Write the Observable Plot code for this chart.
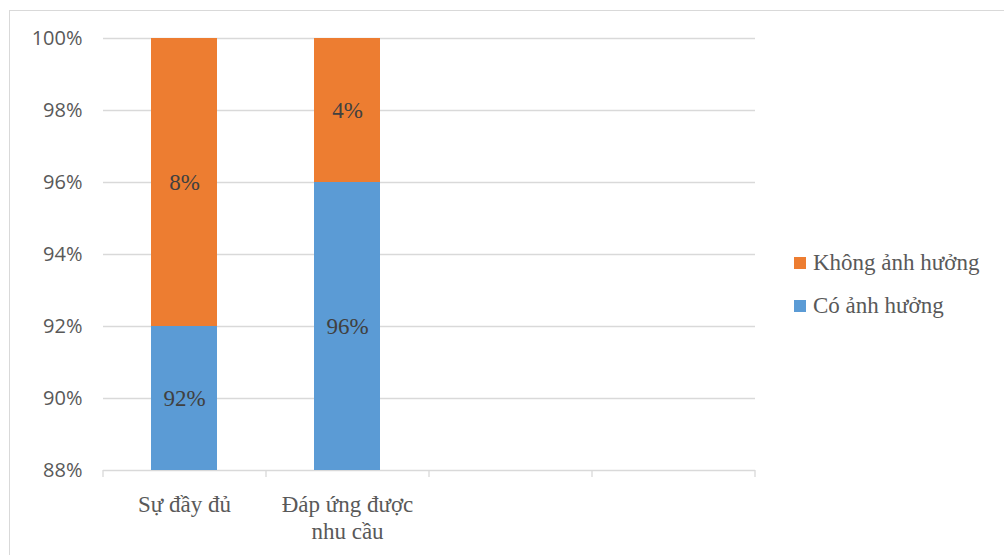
<!DOCTYPE html>
<html>
<head>
<meta charset="utf-8">
<script src="https://cdn.jsdelivr.net/npm/d3@7"></script>
<script src="https://cdn.jsdelivr.net/npm/@observablehq/plot@0.6"></script>
<style>
  html, body { margin: 0; padding: 0; background: #fff; }
  #wrap { position: relative; width: 1004px; height: 555px; overflow: hidden; background: #fff; }
  #border { position: absolute; left: 9px; top: 10px; width: 1100px; height: 700px; border: 1.5px solid #d9d9d9; box-sizing: border-box; pointer-events: none; }
  #chart { position: absolute; left: 0; top: 0; }
  .legend { position: absolute; left: 794px; font-family: "Liberation Serif", "Tinos", "Times New Roman", "DejaVu Serif", serif; font-size: 23px; color: #595959; }
  .item { position: absolute; left: 0; display: flex; align-items: center; height: 23px; line-height: 23px; white-space: nowrap; }
  .sw { width: 12px; height: 12px; margin-right: 7px; flex: none; }
  .serif { font-family: "Liberation Serif", "Tinos", "Times New Roman", "DejaVu Serif", serif; }
</style>
</head>
<body>
<div id="wrap">
  <div id="chart"></div>
  <div id="border"></div>
  <div class="legend" id="legend"></div>
</div>
<script>
// ---- data ----
const categories = ["Sự đầy đủ", "Đáp ứng được\nnhu cầu", "empty3", "empty4"];
const tickLabels = ["Sự đầy đủ", "Đáp ứng được\nnhu cầu", "", ""];
const seriesNames = ["Có ảnh hưởng", "Không ảnh hưởng"];
const seriesColors = ["#5B9BD5", "#ED7D31"];
const coAnhHuong = [0.92, 0.96];
const khongAnhHuong = [0.08, 0.04];
const yTicks = [0.88, 0.90, 0.92, 0.94, 0.96, 0.98, 1.00];
const yMin = 0.88, yMax = 1.0;

const SERIF = "'Liberation Serif', Tinos, 'Times New Roman', 'DejaVu Serif', serif";

// stacked segments + label positions (midpoint of visible part)
const segs = [];
categories.slice(0, 2).forEach((c, ci) => {
  let cum = 0;
  [coAnhHuong, khongAnhHuong].forEach((vals, si) => {
    const lo = cum, hi = cum + vals[ci];
    cum = hi;
    const vlo = Math.max(lo, yMin), vhi = Math.min(hi, yMax);
    segs.push({cat: c, series: seriesNames[si], y1: lo, y2: hi, ymid: (vlo + vhi) / 2,
               label: d3.format(".0%")(vals[ci])});
  });
});

const labelMap = new Map(categories.map((c, i) => [c, tickLabels[i]]));

const plot = Plot.plot({
  width: 1004,
  height: 555,
  marginLeft: 103,
  marginRight: 249,
  marginTop: 38,
  marginBottom: 85,
  style: {background: "transparent"},
  x: {type: "band", domain: categories, paddingInner: 0.595, paddingOuter: 0.2975, align: 0.5},
  y: {domain: [yMin, yMax]},
  color: {domain: seriesNames, range: seriesColors},
  marks: [
    Plot.gridY(yTicks, {stroke: "#d9d9d9", strokeOpacity: 1, strokeWidth: 1.3}),
    Plot.barY(segs, {x: "cat", y1: "y1", y2: "y2", fill: "series", clip: true}),
    Plot.text(segs, {x: "cat", y: "ymid", text: "label", fill: "#404040",
      fontSize: 23, fontFamily: SERIF}),
    Plot.axisY({ticks: yTicks, tickSize: 0, tickPadding: 21, tickFormat: d3.format(".0%"),
      fontSize: 20, fontFamily: "'Open Sans', sans-serif", fill: "#595959", label: null}),
    Plot.axisX({tickSize: 0, tickPadding: 22, tickFormat: d => labelMap.get(d),
      fontSize: 23, fontFamily: SERIF, fill: "#595959",
      lineHeight: 1.17, label: null})
  ]
});
document.getElementById("chart").appendChild(plot);

// category separator ticks from the x scale
const xs = plot.scale("x");
const ys = plot.scale("y");
const r0 = xs.range[0], r1 = xs.range[1];
const step = (r1 - r0) / categories.length;
const yb = ys.apply(yMin);
const svg = d3.select(plot);
d3.range(categories.length + 1).forEach(i => {
  svg.append("line")
    .attr("x1", r0 + i * step).attr("x2", r0 + i * step)
    .attr("y1", yb).attr("y2", yb + 7)
    .attr("stroke", "#d9d9d9").attr("stroke-width", 1.3);
});

// legend (top series first)
const legend = document.getElementById("legend");
[1, 0].forEach((si, k) => {
  const it = document.createElement("div");
  it.className = "item";
  it.style.top = (251 + k * 43) + "px";
  const sw = document.createElement("span");
  sw.className = "sw";
  sw.style.background = seriesColors[si];
  const tx = document.createElement("span");
  tx.textContent = seriesNames[si];
  it.appendChild(sw); it.appendChild(tx);
  legend.appendChild(it);
});
legend.style.top = "0px";
</script>
</body>
</html>
